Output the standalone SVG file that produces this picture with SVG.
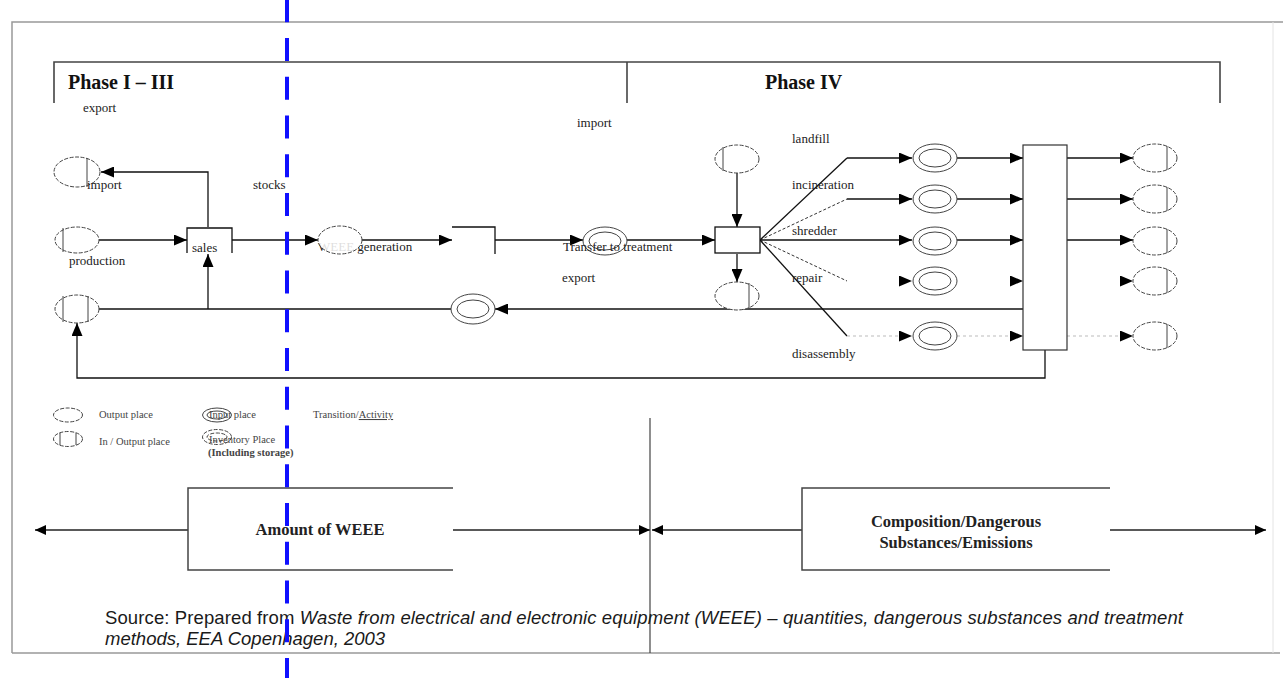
<svg xmlns="http://www.w3.org/2000/svg" width="1283" height="678" viewBox="0 0 1283 678">
<defs>
<marker id="ah" viewBox="0 0 13 11" refX="13" refY="5.5" markerWidth="13" markerHeight="11" markerUnits="userSpaceOnUse" orient="auto">
<path d="M0,0 L13,5.5 L0,11 z" fill="#000"/>
</marker>
<marker id="ahs" viewBox="0 0 11 10" refX="11" refY="5" markerWidth="11" markerHeight="10" markerUnits="userSpaceOnUse" orient="auto">
<path d="M0,0 L11,5 L0,10 z" fill="#000"/>
</marker>
<style>
.ln{fill:none;stroke:#111;stroke-width:1.3}
.ar{fill:none;stroke:#111;stroke-width:1.3;marker-end:url(#ah)}
.arb{fill:none;stroke:#222;stroke-width:1.6;marker-end:url(#ahs)}
.dash{fill:none;stroke:#333;stroke-width:1;stroke-dasharray:3 2}
.faint{fill:none;stroke:#bbb;stroke-width:1;stroke-dasharray:3 3}
.pl{fill:#fff;stroke:#444;stroke-width:1;stroke-dasharray:4 1.5}
.pv{stroke:#444;stroke-width:1}
.dp{fill:#fff;stroke:#444;stroke-width:1}
.box{fill:#fff;stroke:#111;stroke-width:1.3}
.t{font-family:"Liberation Serif","Times New Roman",serif;font-size:13px;fill:#222}
.h{font-family:"Liberation Serif","Times New Roman",serif;font-size:20px;font-weight:bold;fill:#111}
.lg{font-family:"Liberation Serif","Times New Roman",serif;font-size:10.5px;fill:#444}
.bb{font-family:"Liberation Serif","Times New Roman",serif;font-size:16.5px;font-weight:bold;fill:#222}
.src{font-family:"Liberation Sans",Arial,sans-serif;font-size:18.5px;fill:#1a1a1a}
</style>
</defs>
<rect width="1283" height="678" fill="#fff"/>
<!-- outer frame -->
<path d="M12,653 V22 H1283" fill="none" stroke="#999" stroke-width="1.5"/>
<path d="M12,653 H1280" fill="none" stroke="#999" stroke-width="1.5"/>
<path d="M1273,22 V653" fill="none" stroke="#e4e4e4" stroke-width="1"/>
<!-- phase header -->
<g id="phase-header">
<path d="M54,103 V62 H1220 V103" fill="none" stroke="#444" stroke-width="1.6"/>
<path d="M627,62 V103" fill="none" stroke="#444" stroke-width="1.6"/>
<text class="h" x="68" y="89">Phase I – III</text>
<text class="h" x="765" y="89">Phase IV</text>
</g>

<!-- connectors -->
<g id="connectors">
<path class="ar" d="M208,227 V172 H101"/>
<path class="ar" d="M99,240 H187"/>
<path class="ar" d="M208,309 V254"/>
<path class="ar" d="M232,240 H318"/>
<path class="ar" d="M362,240 H452"/>
<path class="ar" d="M495,240 H583"/>
<path class="ar" d="M627,240 H715"/>
<path class="ar" d="M737,173 V227"/>
<path class="ar" d="M737,254 V282"/>
<path class="ar" d="M1023,309 H495"/>
<path class="ln" d="M451,309 H99"/>
<path class="ar" d="M1045,350 V378 H77 V323"/>
<!-- fan -->
<path class="ln" d="M760,240 L847,158"/>
<path class="ar" d="M847,158 H912"/>
<path class="dash" d="M760,240 L847,199"/>
<path class="ar" d="M847,199 H912"/>
<path class="ar" d="M760,240 H912"/>
<path class="dash" d="M760,240 L847,281"/>
<path d="M900,281 H912" fill="none" stroke="none" marker-end="url(#ah)"/>
<path class="ln" d="M760,240 L847,336" stroke-width="1"/>
<path class="faint" d="M847,336 H900"/>
<path d="M900,336 H912" fill="none" stroke="none" marker-end="url(#ah)"/>
<!-- to big box -->
<path class="ar" d="M957,158 H1023"/>
<path class="ar" d="M957,199 H1023"/>
<path class="ar" d="M957,240 H1023"/>
<path d="M1011,281 H1023" fill="none" stroke="none" marker-end="url(#ah)"/>
<path class="faint" d="M957,336 H1011"/>
<path d="M1011,336 H1023" fill="none" stroke="none" marker-end="url(#ah)"/>
<!-- from big box -->
<path class="ar" d="M1067,158 H1133" stroke-width="1.8"/>
<path class="ar" d="M1067,199 H1133"/>
<path class="ar" d="M1067,240 H1133"/>
<path d="M1121,281 H1133" fill="none" stroke="none" marker-end="url(#ah)"/>
<path class="faint" d="M1067,336 H1121"/>
<path d="M1121,336 H1133" fill="none" stroke="none" marker-end="url(#ah)"/>
<!-- bottom -->
<path class="arb" d="M188,530 H35"/>
<path class="arb" d="M453,530 H650"/>
<path class="arb" d="M802,530 H652"/>
<path class="arb" d="M1110,530 H1266"/>
<path d="M650,418 V653" fill="none" stroke="#444" stroke-width="1.2"/>
</g>

<!-- left column nodes -->
<g id="export-place">
<ellipse class="pl" cx="77" cy="172" rx="23" ry="15"/>
<line class="pv" x1="87" y1="158" x2="87" y2="187"/>
<text class="t" x="83" y="112">export</text>
<text class="t" x="87" y="189">import</text>
</g>
<g id="production">
<ellipse class="pl" cx="77" cy="240" rx="22" ry="13"/>
<line class="pv" x1="63" y1="228" x2="63" y2="252"/>
<text class="t" x="69" y="265">production</text>
</g>
<g id="stock-place">
<ellipse class="pl" cx="77" cy="309" rx="22" ry="14"/>
<line class="pv" x1="63" y1="296" x2="63" y2="322"/>
<line class="pv" x1="88" y1="296" x2="88" y2="322"/>
</g>
<g id="sales">
<path class="box" d="M187,253 V228 H232 V253" fill="none"/>
<text class="t" x="192" y="252">sales</text>
</g>
<text class="t" x="253" y="189">stocks</text>
<g id="waste-generation">
<text class="t" x="318" y="251">WEEE generation</text>
<ellipse class="pl" cx="340" cy="240" rx="22" ry="14" fill-opacity="0.85"/>
</g>
<g id="collection">
<path d="M452,227 H495 V254" fill="none" stroke="#111" stroke-width="1.3"/>
</g>
<g id="transfer">
<ellipse class="dp" cx="605" cy="241" rx="22" ry="14"/>
<ellipse class="dp" cx="605" cy="241" rx="16" ry="9"/>
<text class="t" x="563" y="251">Transfer to treatment</text>
</g>
<text class="t" x="577" y="127">import</text>
<text class="t" x="562" y="282">export</text>
<g id="return-place">
<ellipse class="dp" cx="473" cy="309" rx="22" ry="15"/>
<ellipse class="dp" cx="473" cy="309" rx="16" ry="9"/>
</g>
<g id="import-place">
<ellipse class="pl" cx="737" cy="159" rx="22" ry="14"/>
<line class="pv" x1="723" y1="147" x2="723" y2="171"/>
</g>
<g id="treatment">
<rect class="box" x="715" y="227" width="45" height="26"/>
</g>
<g id="export-place-2">
<ellipse class="pl" cx="737" cy="296" rx="22" ry="14"/>
<line class="pv" x1="749" y1="283" x2="749" y2="309"/>
</g>
<g id="fan-labels">
<text class="t" x="792" y="143">landfill</text>
<text class="t" x="792" y="189">incineration</text>
<text class="t" x="792" y="235">shredder</text>
<text class="t" x="792" y="282">repair</text>
<text class="t" x="792" y="358">disassembly</text>
</g>
<g id="treatment-places">
<ellipse class="dp" cx="935" cy="158" rx="22" ry="14"/><ellipse class="dp" cx="935" cy="158" rx="16" ry="9"/>
<ellipse class="dp" cx="935" cy="199" rx="22" ry="14"/><ellipse class="dp" cx="935" cy="199" rx="16" ry="9"/>
<ellipse class="dp" cx="935" cy="241" rx="22" ry="14"/><ellipse class="dp" cx="935" cy="241" rx="16" ry="9"/>
<ellipse class="dp" cx="935" cy="281" rx="22" ry="14"/><ellipse class="dp" cx="935" cy="281" rx="16" ry="9"/>
<ellipse class="dp" cx="935" cy="336" rx="22" ry="14"/><ellipse class="dp" cx="935" cy="336" rx="16" ry="9"/>
</g>
<g id="big-box">
<rect x="1023" y="145" width="44" height="205" fill="#fff" stroke="#333" stroke-width="1.2"/>
</g>
<g id="output-places">
<ellipse class="pl" cx="1155" cy="158" rx="22" ry="14"/><line class="pv" x1="1167" y1="146" x2="1167" y2="170"/>
<ellipse class="pl" cx="1155" cy="199" rx="22" ry="14"/><line class="pv" x1="1167" y1="187" x2="1167" y2="211"/>
<ellipse class="pl" cx="1155" cy="241" rx="22" ry="14"/><line class="pv" x1="1167" y1="229" x2="1167" y2="253"/>
<ellipse class="pl" cx="1155" cy="281" rx="22" ry="14"/><line class="pv" x1="1167" y1="269" x2="1167" y2="293"/>
<ellipse class="pl" cx="1155" cy="336" rx="22" ry="14"/><line class="pv" x1="1167" y1="324" x2="1167" y2="348"/>
</g>

<!-- legend -->
<g id="legend">
<ellipse class="pl" cx="68" cy="415" rx="14.5" ry="7"/>
<text class="lg" x="99" y="418">Output place</text>
<ellipse class="pl" cx="68" cy="439" rx="14.5" ry="7.5"/>
<line class="pv" x1="60" y1="433" x2="60" y2="445"/>
<line class="pv" x1="76" y1="433" x2="76" y2="445"/>
<text class="lg" x="99" y="445">In / Output place</text>
<ellipse class="dp" cx="217" cy="415" rx="14.5" ry="7"/>
<ellipse class="dp" cx="217" cy="415" rx="10" ry="4"/>
<text class="lg" x="209" y="418">Input place</text>
<ellipse class="pl" cx="217" cy="437" rx="14.5" ry="7.5"/>
<ellipse class="pl" cx="217" cy="437" rx="10" ry="4"/>
<text class="lg" x="209" y="443">Inventory Place</text>
<text class="lg" x="208" y="456" font-weight="bold" font-size="10">(Including storage)</text>
<text class="lg" x="313" y="418">Transition/<tspan text-decoration="underline">Activity</tspan></text>
</g>

<!-- bottom boxes -->
<g id="amount-box">
<path d="M453,488 H188 V570 H453" fill="none" stroke="#444" stroke-width="1.5"/>
<text class="bb" x="320" y="535" text-anchor="middle">Amount of WEEE</text>
</g>
<g id="composition-box">
<path d="M1110,488 H802 V570 H1110" fill="none" stroke="#444" stroke-width="1.5"/>
<text class="bb" x="956" y="527" text-anchor="middle">Composition/Dangerous</text>
<text class="bb" x="956" y="548" text-anchor="middle">Substances/Emissions</text>
</g>

<!-- source -->
<text class="src" x="105" y="624" textLength="1078" lengthAdjust="spacing">Source: Prepared from <tspan font-style="italic">Waste from electrical and electronic equipment (WEEE) – quantities, dangerous substances and treatment</tspan></text>
<text class="src" x="105" y="645" font-style="italic">methods, EEA Copenhagen, 2003</text>

<!-- blue dashed line -->
<path d="M287,-0.75 V678" fill="none" stroke="#1010ff" stroke-width="4" stroke-dasharray="23 15.75"/>
</svg>
